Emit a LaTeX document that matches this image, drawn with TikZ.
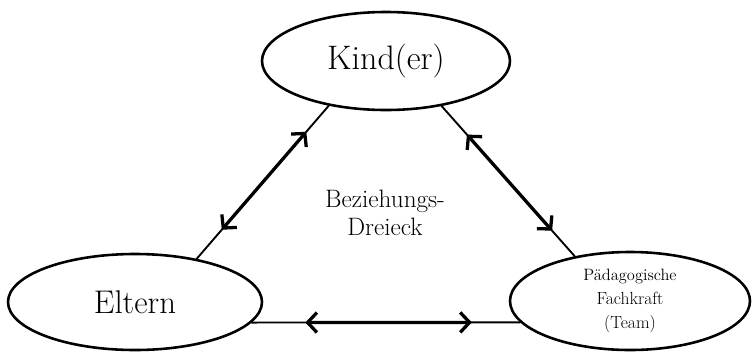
\documentclass[tikz,border=0pt]{standalone}
\usetikzlibrary{arrows.meta,calc,shapes.geometric}
\begin{document}
\begin{tikzpicture}[x=0.03cm,y=-0.03cm,line cap=round]
	\tikzstyle{rolle}=[ellipse,draw,line width=2.2pt,fill=white,inner sep=0pt];
	\tikzstyle{band}=[line width=1.6pt];
	\tikzstyle{pfeil}=[line width=2.8pt,{Straight Barb[length=8pt,width=17pt]}-{Straight Barb[length=8pt,width=17pt]}];

	\useasboundingbox (0,0) rectangle (753,352);
	\node[rolle,minimum width=7.44cm,minimum height=2.94cm] (kind) at (386,61) {\fontsize{29}{32}\selectfont Kind(er)};
	\node[rolle,minimum width=7.62cm,minimum height=2.88cm] (eltern) at (135,302) {\fontsize{28}{32}\selectfont Eltern};
	\node[rolle,minimum width=7.2cm,minimum height=2.94cm,align=center,font=\fontsize{15}{20.5}\selectfont] (fach) at (630,301) {{\fontsize{14}{20.5}\selectfont Pädagogische}\\Fachkraft\\(Team)};
	\node[font=\fontsize{21.5}{24}\selectfont,align=center] (dreieck) at (385,213) {Beziehungs-\\Dreieck};

	\draw[band] (kind.218) -- (eltern.35);
	\draw[band] (kind.321) -- (fach.141);
	\draw[band] (eltern.350) -- (fach.191);
	\draw[pfeil] ($(kind.218)!0.17!(eltern.35)$) -- ($(kind.218)!0.81!(eltern.35)$);
	\draw[pfeil] ($(kind.321)!0.19!(fach.141)$) -- ($(kind.321)!0.83!(fach.141)$);
	\draw[pfeil] ($(eltern.350)!0.2!(fach.191)$) -- ($(eltern.350)!0.82!(fach.191)$);
\end{tikzpicture}
\end{document}
